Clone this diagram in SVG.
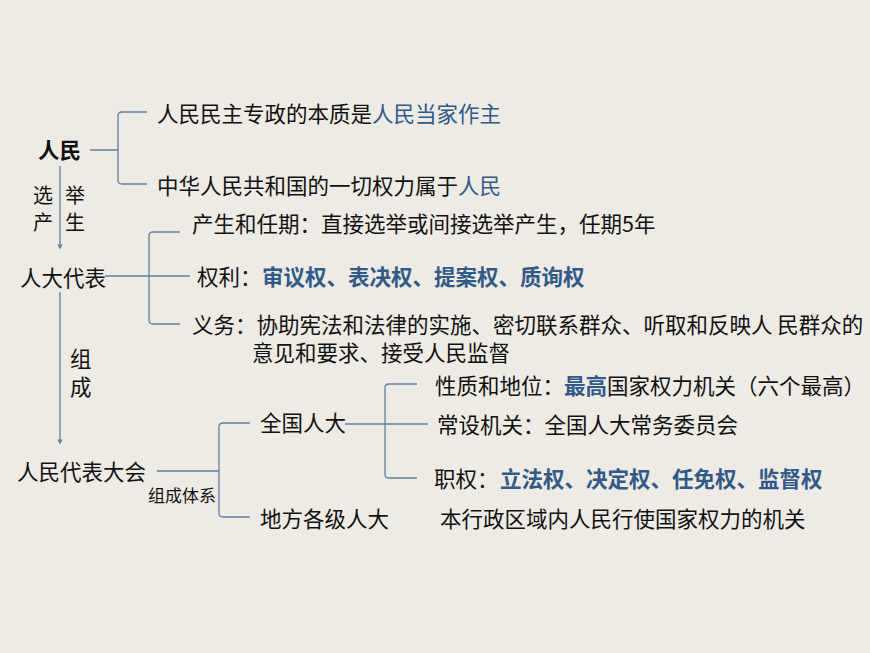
<svg xmlns="http://www.w3.org/2000/svg" width="870" height="653" viewBox="0 0 870 653">
<style>
text{font-family:"Noto Sans CJK SC","Liberation Sans",sans-serif;font-size:21.5px;fill:#111}
.b{fill:#2E5A8E}
.s{font-size:17px}
.x{font-size:20px}
.l{fill:none;stroke:#5F80A6;stroke-width:1.3}
</style>
<defs><marker id="a" viewBox="0 0 6 6" refX="3" refY="3" markerWidth="4" markerHeight="4" orient="auto"><path d="M0,0L6,3L0,6z" fill="#5F80A6"/></marker></defs>
<rect width="870" height="653" fill="#EDEBE3"/>
<g id="connectors">
<path class="l" d="M90,150H118M147,112H122Q118,112 118,116V180Q118,184 122,184H147"/>
<path class="l" d="M60,166V247" marker-end="url(#a)"/>
<path class="l" d="M105,276H190M180,232H153Q149,232 149,236V320Q149,324 153,324H180"/>
<path class="l" d="M60,292V442" marker-end="url(#a)"/>
<path class="l" d="M157,471H219M250,423H223Q219,423 219,427V513Q219,517 223,517H250"/>
<path class="l" d="M345,424H428M417,384H389Q385,384 385,388V474Q385,478 389,478H417"/>
</g>
<g id="renmin"><text x="38" y="158" style="font-weight:bold">人民</text></g>
<g id="r1"><text x="157" y="122">人民民主专政的本质是<tspan class="b">人民当家作主</tspan></text></g>
<g id="r2"><text x="157" y="194">中华人民共和国的一切权力属于<tspan class="b">人民</tspan></text></g>
<g id="xj"><text class="x" x="33" y="203">选</text><text class="x" x="65" y="203">举</text><text class="x" x="33" y="230">产</text><text class="x" x="65" y="230">生</text></g>
<g id="rddb"><text x="20" y="286">人大代表</text></g>
<g id="d1"><text x="192" y="232">产生和任期：直接选举或间接选举产生，任期5年</text></g>
<g id="d2"><text x="197" y="285">权利：<tspan class="b" x="262" style="font-weight:bold">审议权、表决权、提案权、质询权</tspan></text></g>
<g id="d3"><text x="192" y="333">义务：协助宪法和法律的实施、密切联系群众、听取和反映人 民群众的</text><text x="252" y="361">意见和要求、接受人民监督</text></g>
<g id="zc"><text x="70" y="367">组</text><text x="70" y="395">成</text></g>
<g id="rmdbdh"><text x="17" y="480">人民代表大会</text><text class="s" x="148" y="502">组成体系</text></g>
<g id="qgrd"><text x="260" y="431">全国人大</text></g>
<g id="dfrd"><text x="260" y="527">地方各级人大</text><text x="440" y="527">本行政区域内人民行使国家权力的机关</text></g>
<g id="q1"><text x="435" y="394">性质和地位：<tspan class="b" style="font-weight:bold">最高</tspan>国家权力机关（六个最高）</text></g>
<g id="q2"><text x="437" y="433">常设机关：全国人大常务委员会</text></g>
<g id="q3"><text x="434" y="487">职权：<tspan class="b" x="500" style="font-weight:bold">立法权、决定权、任免权、监督权</tspan></text></g>
</svg>
